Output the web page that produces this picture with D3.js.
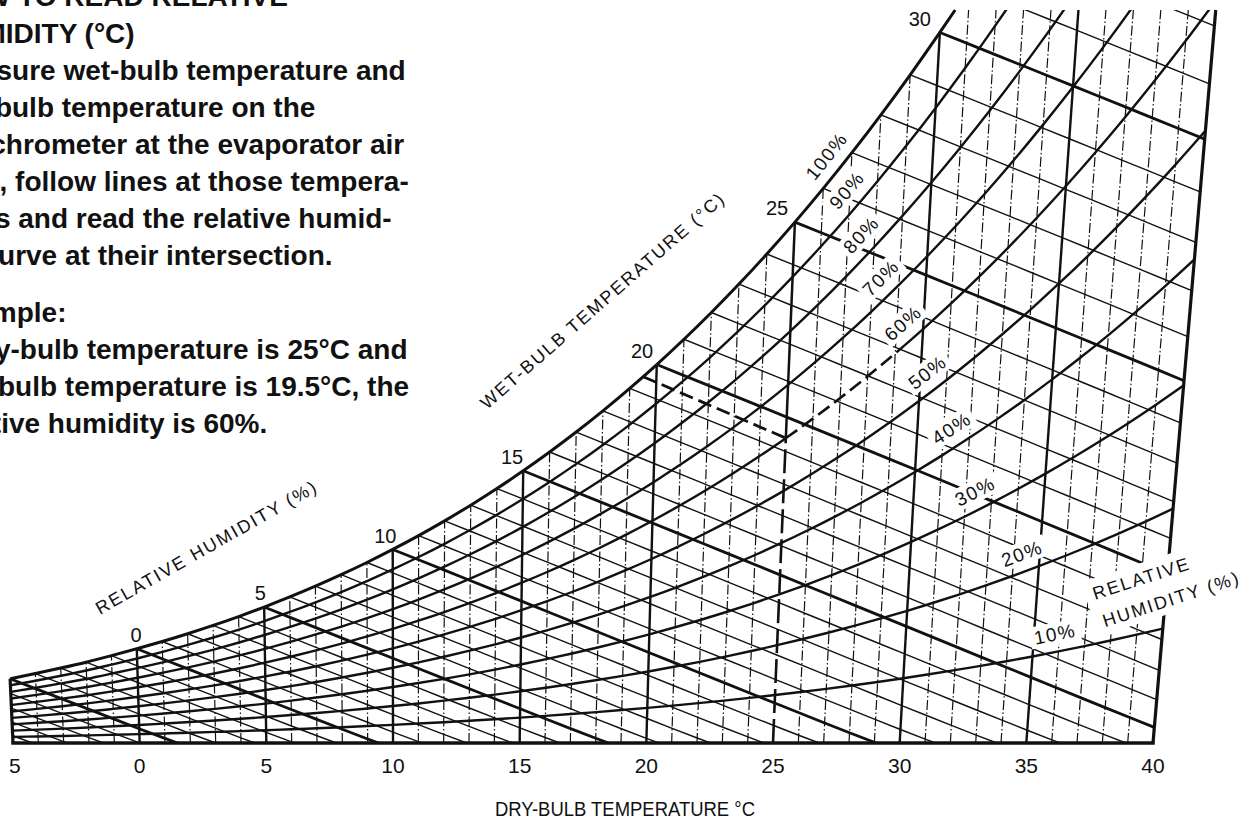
<!DOCTYPE html>
<html>
<head>
<meta charset="utf-8">
<title>Psychrometric chart</title>
<script src="https://cdn.jsdelivr.net/npm/d3@7/dist/d3.min.js"></script>
<style>
  html, body { margin: 0; padding: 0; background: #fff; }
  svg { display: block; font-family: "Liberation Sans", Arial, Helvetica, sans-serif; }
</style>
</head>
<body>
<svg id="chart" width="1258" height="819"></svg>
<script>
// ---------------- data ----------------
// saturation vapour pressure over water (kPa) at each whole degree
const satTemps = d3.range(-10, 41);
const satPressure = [
  0.2865, 0.3100, 0.3351, 0.3619, 0.3906, 0.4214, 0.4542, 0.4892, 0.5265, 0.5681,
  0.6112, 0.6571, 0.7060, 0.7581, 0.8135, 0.8726, 0.9354, 1.0021, 1.0730, 1.1482,
  1.2282, 1.3129, 1.4028, 1.4981, 1.5989, 1.7057, 1.8188, 1.9383, 2.0647, 2.1982,
  2.3392, 2.4881, 2.6452, 2.8109, 2.9856, 3.1697, 3.3637, 3.5679, 3.7828, 4.0089,
  4.2467, 4.4966, 4.7592, 5.0351, 5.3247, 5.6286, 5.9475, 6.2818, 6.6324, 6.9997,
  7.3844
];
const barometric = 101.325;          // kPa
const wetBulbSlope = 0.40;           // g/kg drop per °C along a wet-bulb line

const dryBulbTicks = [-5, 0, 5, 10, 15, 20, 25, 30, 35, 40];
const dryBulbLines = d3.range(-4, 40);
const wetBulbLines = d3.range(-10, 35);
const wetBulbLabels = [0, 5, 10, 15, 20, 25, 30];
const rhCurves = [10, 20, 30, 40, 50, 60, 70, 80, 90];
const rhLabels = [10, 20, 30, 40, 50, 60, 70, 80, 90, 100];
const rhLabelAt = [36, 34.6, 32.7, 31.7, 30.7, 29.7, 28.8, 28.0, 27.4, 26.6]; // dry-bulb °C of each label
const example = { dryBulb: 25, wetBulb: 19.5, rh: 60 };

const introLines = [
  "HOW TO READ RELATIVE",
  "HUMIDITY (°C)",
  "Measure wet-bulb temperature and",
  "dry-bulb temperature on the",
  "psychrometer at the evaporator air",
  "inlet, follow lines at those tempera-",
  "tures and read the relative humid-",
  "ity curve at their intersection."
];
const exampleLines = [
  "Example:",
  `If dry-bulb temperature is ${example.dryBulb}°C and`,
  `wet-bulb temperature is ${example.wetBulb}°C, the`,
  `relative humidity is ${example.rh}%.`
];

// ---------------- scales ----------------
const svg = d3.select("#chart");
const ink = "#111";

const xT = d3.scaleLinear().domain([-5, 40]).range([13, 1153]);              // dry-bulb at zero humidity
const yW = d3.scalePow().exponent(1.023).domain([0, 28.05]).range([743, 10]); // humidity ratio, g/kg
const lean = d3.scaleLinear().domain([10.5, 40]).range([0, 0.0856]);          // dry-bulb lines fan out upward
const yBase = yW(0);
const wTop = yW.domain()[1];

function pws(t) {
  const i = Math.min(Math.floor(t), 39) - satTemps[0];
  const f = t - satTemps[i];
  return satPressure[i] * Math.pow(satPressure[i + 1] / satPressure[i], f);
}
function humidity(t, rh) {
  const p = rh / 100 * pws(t);
  return 622 * p / (barometric - p);
}
function pt(t, w) {
  const yy = yW(Math.max(0, w));
  return [xT(t) + lean(t) * (yBase - yy), yy];
}
function span(a, b) {
  const ts = [a];
  for (let t = Math.floor(a) + 1; t < b; t++) ts.push(t);
  ts.push(b);
  return ts;
}

// dry-bulb where saturation meets the top of the chart
let lo = 25, hi = 35;
for (let i = 0; i < 50; i++) { const m = (lo + hi) / 2; if (humidity(m, 100) < wTop) lo = m; else hi = m; }
const tTop = lo;

const smooth = d3.line().curve(d3.curveMonotoneX);
const straight = d3.line();

const satPts = span(-5, tTop).map(t => pt(t, humidity(t, 100)));

// chart area bounded by saturation curve, top, 40 °C line and zero humidity
const defs = svg.append("defs");
defs.append("clipPath").attr("id", "region").append("path")
  .attr("d", smooth(satPts) + "L" + pt(40, wTop) + "L" + pt(40, 0) + "L" + pt(-5, 0) + "Z");

const grid = svg.append("g").attr("clip-path", "url(#region)")
  .attr("fill", "none").attr("stroke", ink);

// ---------------- dry-bulb lines ----------------
const wExample = humidity(example.dryBulb, example.rh);
dryBulbLines.forEach(t => {
  const wEnd = Math.min(humidity(t, 100), wTop);
  const major = t % 5 === 0;
  if (t === example.dryBulb) {
    grid.append("path").attr("d", straight([pt(t, wExample), pt(t, wEnd)]))
      .attr("stroke-width", 2.5);
    grid.append("path").attr("d", straight([pt(t, 0), pt(t, wExample)]))
      .attr("stroke-width", 2.6).attr("stroke-dasharray", "24,6");
    return;
  }
  grid.append("path").attr("d", straight([pt(t, 0), pt(t, wEnd)]))
    .attr("stroke-width", major ? 2.4 : 1.2)
    .attr("stroke-dasharray", major ? null : "10,2.5,1.5,2.5");
});

// ---------------- wet-bulb lines ----------------
wetBulbLines.forEach(tw => {
  const ws = humidity(tw, 100);
  const tEnd = Math.min(40, tw + ws / wetBulbSlope);
  const pts = span(tw, tEnd).map(t => pt(t, ws - wetBulbSlope * (t - tw)));
  grid.append("path").attr("d", straight(pts))
    .attr("stroke-width", tw % 5 === 0 ? 2.8 : 1.4);
});

// ---------------- relative humidity curves ----------------
const exLabelT = 29.2;
rhCurves.forEach(rh => {
  const curve = ts => ts.map(t => pt(t, humidity(t, rh)));
  if (rh === example.rh) {
    grid.append("path").attr("d", smooth(curve(span(-5, example.dryBulb)))).attr("stroke-width", 2.4);
    grid.append("path").attr("d", smooth(curve(span(example.dryBulb, exLabelT))))
      .attr("stroke-width", 2.6).attr("stroke-dasharray", "14,6");
    grid.append("path").attr("d", smooth(curve(span(exLabelT, 40)))).attr("stroke-width", 2.4);
  } else {
    grid.append("path").attr("d", smooth(curve(span(-5, 40)))).attr("stroke-width", 2.4);
  }
});

// example: wet-bulb 19.5 °C down to the 60 % curve at 25 °C
{
  const ws = humidity(example.wetBulb, 100);
  const slope = (ws - wExample) / (example.dryBulb - example.wetBulb);
  const pts = span(example.wetBulb, example.dryBulb).map(t => pt(t, ws - slope * (t - example.wetBulb)));
  grid.append("path").attr("d", straight(pts))
    .attr("stroke-width", 2.8).attr("stroke-dasharray", "14,6");
}

// ---------------- outline ----------------
const outline = svg.append("g").attr("fill", "none").attr("stroke", ink);
outline.append("path").attr("d", smooth(satPts)).attr("stroke-width", 3);
outline.append("path").attr("d", straight([pt(-5, 0), pt(-5, humidity(-5, 100))])).attr("stroke-width", 3.2);
outline.append("path").attr("d", straight([pt(40, 0), pt(40, wTop)])).attr("stroke-width", 3.2);
outline.append("path").attr("d", straight([pt(-5, 0), pt(40, 0)])).attr("stroke-width", 3.4)
  .attr("stroke-linecap", "square");

// ---------------- labels ----------------
const labels = svg.append("g").attr("fill", ink);

function tangentAngle(f, t) {
  const a = f(t - 0.3), b = f(t + 0.3);
  return Math.atan2(b[1] - a[1], b[0] - a[0]);
}

// relative humidity labels with a white knockout behind them
rhLabels.forEach((rh, i) => {
  const t = rhLabelAt[i];
  const f = tt => pt(tt, humidity(tt, rh));
  const p = f(t);
  const ang = tangentAngle(f, t);
  const c = [p[0] + Math.sin(ang) * 18, p[1] - Math.cos(ang) * 18];
  const g = labels.append("g").attr("transform", `translate(${c}) rotate(${ang * 180 / Math.PI})`);
  const txt = g.append("text").attr("text-anchor", "middle").attr("dy", "0.36em")
    .attr("font-size", 19).attr("letter-spacing", 1.5).text(rh + "%");
  const w = txt.node().getComputedTextLength();
  g.insert("rect", "text").attr("x", -w / 2 - 4).attr("y", -11).attr("width", w + 8).attr("height", 22)
    .attr("fill", "#fff");
});

// wet-bulb (saturation) temperature labels
wetBulbLabels.forEach(tw => {
  const f = t => pt(t, humidity(t, 100));
  const p = f(tw);
  const nx = Math.sin(tangentAngle(f, tw));
  labels.append("text")
    .attr("x", p[0] + 35 * (nx + 0.25)).attr("y", p[1] - 14).attr("dy", "0.36em")
    .attr("text-anchor", "middle").attr("font-size", 20).text(tw);
});

// dry-bulb tick labels
dryBulbTicks.forEach(t => {
  const txt = labels.append("text").attr("y", 773).attr("font-size", 21);
  if (t < 0) {
    txt.attr("text-anchor", "start");
    txt.append("tspan").attr("x", -14).text("\u2212");
    txt.append("tspan").attr("x", xT(t) - 4).text(Math.abs(t));
  } else {
    txt.attr("x", xT(t)).attr("text-anchor", "middle").text(t);
  }
});

labels.append("text").attr("x", 625).attr("y", 816).attr("text-anchor", "middle")
  .attr("font-size", 21).attr("textLength", 260).attr("lengthAdjust", "spacingAndGlyphs")
  .text("DRY-BULB TEMPERATURE °C");

labels.append("text").attr("transform", "translate(487,410) rotate(-41.2)")
  .attr("font-size", 18).attr("letter-spacing", 2).text("WET-BULB TEMPERATURE (°C)");

labels.append("text").attr("transform", "translate(100,615) rotate(-29.6)")
  .attr("font-size", 18).attr("letter-spacing", 2).text("RELATIVE HUMIDITY (%)");

{
  const g = labels.append("g").attr("transform", "translate(1095,600) rotate(-18)");
  g.append("rect").attr("x", -8).attr("y", -21).attr("width", 160).attr("height", 57).attr("fill", "#fff");
  g.append("text").attr("font-size", 18).attr("letter-spacing", 2).text("RELATIVE");
  g.append("text").attr("x", 1).attr("y", 29).attr("font-size", 18).attr("letter-spacing", 2).text("HUMIDITY (%)");
}

// ---------------- instructions ----------------
const notes = svg.append("g").attr("font-weight", "bold").attr("font-size", 28).attr("fill", ink);
introLines.forEach((s, i) => {
  notes.append("text").attr("x", -58).attr("y", 5.5 + 37.1 * i).text(s);
});
exampleLines.forEach((s, i) => {
  notes.append("text").attr("x", -58).attr("y", 322 + 37 * i).text(s);
});
</script>
</body>
</html>
